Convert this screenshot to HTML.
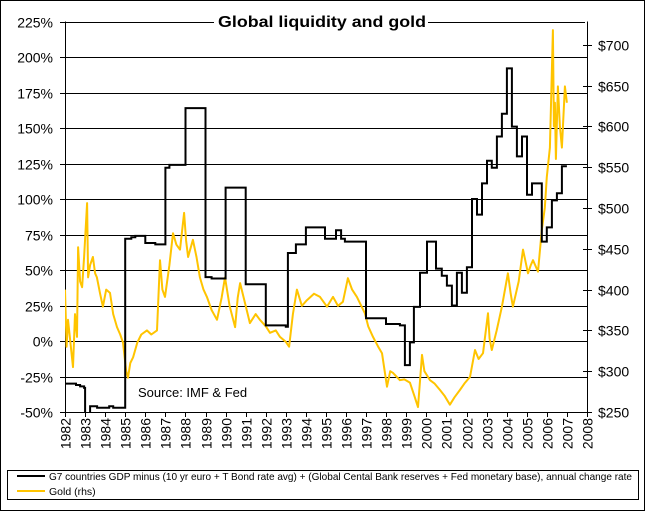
<!DOCTYPE html>
<html><head><meta charset="utf-8"><style>
html,body{margin:0;padding:0;background:#fff;}
svg{display:block;font-family:"Liberation Sans",Arial,sans-serif;}
</style></head><body>
<svg id="chart" width="646" height="512" viewBox="0 0 646 512">
<rect x="0.5" y="0.5" width="644" height="510" fill="#fff" stroke="#000"/>
<g id="grid"></g>
<g id="axes"></g>
<g id="series"></g>
<rect x="214" y="10" width="214" height="20" fill="#fff"/>
<text x="218" y="27" font-weight="bold" font-size="16" textLength="208" lengthAdjust="spacingAndGlyphs">Global liquidity and gold</text>
<text x="138" y="397" font-size="13">Source: IMF &amp; Fed</text>
<g>
<rect x="7.5" y="470.5" width="631" height="29" fill="#fff" stroke="#000"/>
<line x1="17" y1="476" x2="45" y2="476" stroke="#000" stroke-width="2"/>
<text x="49" y="480" font-size="10.5" textLength="583" lengthAdjust="spacingAndGlyphs">G7 countries GDP minus (10 yr euro + T Bond rate avg) + (Global Cental Bank reserves + Fed monetary base), annual change rate</text>
<line x1="17" y1="491" x2="45" y2="491" stroke="#FFC400" stroke-width="2"/>
<text x="49" y="495" font-size="10.5">Gold (rhs)</text>
</g>
</svg>
<script>
const leftTicks=[-50,-25,0,25,50,75,100,125,150,175,200,225];
const rightTicks=[250,300,350,400,450,500,550,600,650,700];
const yearTicks=[1982,1983,1984,1985,1986,1987,1988,1989,1990,1991,1992,1993,1994,1995,1996,1997,1998,1999,2000,2001,2002,2003,2004,2005,2006,2007,2008];
const liqYears=[1982.0,1982.55,1982.75,1982.95,1983.0,1983.25,1983.6,1984.2,1984.4,1985.0,1985.3,1985.5,1986.0,1986.5,1987.0,1987.2,1988.0,1989.0,1989.3,1990.0,1991.0,1992.0,1993.0,1993.1,1993.5,1994.0,1994.95,1995.30,1995.50,1995.75,1995.94,1996.99,1997.99,1998.68,1998.93,1999.18,1999.38,1999.68,2000.03,2000.48,2000.77,2001.02,2001.27,2001.52,2001.77,2002.02,2002.27,2002.52,2002.77,2003.02,2003.26,2003.51,2003.76,2004.01,2004.26,2004.51,2004.76,2005.01,2005.26,2005.75,2006.0,2006.25,2006.50,2006.75,2007.0];
const liqValues=[-30,-31,-32,-33,-60,-46,-47,-46,-47,72,73,74,69,68,122,124,164,45,44,108,40,11,10,62,68,80,72,72,78,72,70,16,12,11,-17,-1,24,48,70,51,46,39,25,48,34,52,100,89,111,127,122,144,160,192,151,130,144,103,111,70,80,99,104,123,123];
const goldYears=[1982.0,1982.08,1982.15,1982.25,1982.40,1982.50,1982.60,1982.65,1982.75,1982.85,1982.95,1983.10,1983.15,1983.25,1983.39,1983.50,1983.59,1983.75,1983.89,1984.05,1984.24,1984.40,1984.59,1984.75,1984.89,1985.05,1985.14,1985.25,1985.39,1985.6,1985.8,1986.08,1986.3,1986.58,1986.73,1986.85,1986.98,1987.2,1987.38,1987.55,1987.73,1987.93,1988.03,1988.13,1988.37,1988.55,1988.72,1988.9,1989.07,1989.3,1989.57,1989.8,1989.97,1990.2,1990.47,1990.6,1990.72,1991.0,1991.21,1991.5,1991.71,1992.0,1992.21,1992.5,1992.71,1993.0,1993.16,1993.35,1993.55,1993.8,1994.05,1994.4,1994.70,1995.05,1995.35,1995.6,1995.84,1996.09,1996.3,1996.54,1996.94,1997.1,1997.34,1997.6,1997.79,1998.04,1998.2,1998.33,1998.68,1998.9,1999.18,1999.4,1999.58,1999.78,1999.9,2000.18,2000.4,2000.68,2000.9,2001.17,2001.4,2001.67,2001.9,2002.17,2002.42,2002.6,2002.82,2003.07,2003.15,2003.26,2003.5,2003.76,2004.06,2004.2,2004.31,2004.6,2004.81,2005.06,2005.2,2005.31,2005.56,2005.75,2005.9,2006.00,2006.15,2006.30,2006.35,2006.40,2006.45,2006.55,2006.65,2006.75,2006.90,2007.0];
const goldValues=[400,330,363,340,305,370,342,452,410,403,440,506,415,430,440,420,415,395,379,400,396,370,354,345,335,300,292,310,317,335,345,350,345,350,436,400,391,430,469,455,449,494,460,440,461,440,415,400,391,375,363,390,415,380,354,390,408,380,359,370,363,355,347,350,342,336,330,370,400,380,387,395,391,379,391,380,385,414,400,391,371,355,342,330,322,281,300,298,289,290,286,270,256,320,300,289,285,277,270,259,268,277,285,293,326,315,322,371,340,326,350,379,420,395,379,410,449,420,430,436,422,473,500,538,574,718,600,629,560,649,600,574,649,629];

const NS='http://www.w3.org/2000/svg';
const X0=65,X1=587,Y0=412,Y1=21.5;
const xs=y=>X0+(y-1982)/(2008-1982)*(X1-X0);
const yl=v=>Y0-(v+50)/275*(Y0-Y1);
const yr=v=>Y0-(v-250)/50*40.8;
function mk(tag,attrs,parent){const e=document.createElementNS(NS,tag);for(const k in attrs)e.setAttribute(k,attrs[k]);parent.appendChild(e);return e;}
const grid=document.getElementById('grid'),axes=document.getElementById('axes'),series=document.getElementById('series');
leftTicks.forEach(v=>{
  const y=Math.round(yl(v))+0.5;
  const g=mk('line',{x1:60,x2:v===225?X1-2:X1,y1:y,y2:y,stroke:'#000'},grid);
  
  
  const t=mk('text',{x:53,y:y+5,'text-anchor':'end','font-size':14},axes);
  t.textContent=v+'%';
  
  
});
rightTicks.forEach(v=>{
  const y=Math.round(yr(v))+0.5;
  const l=mk('line',{x1:X1-4,x2:X1+5,y1:y,y2:y,stroke:'#000'},axes);
  
  
  const t=mk('text',{x:598,y:y+5,'font-size':14},axes);
  t.textContent='$'+v;
  
  
});
mk('line',{x1:X0+0.5,x2:X0+0.5,y1:Y1,y2:Y0,stroke:'#000'},axes);
mk('line',{x1:X1+0.5,x2:X1+0.5,y1:Y1,y2:Y0,stroke:'#000'},axes);
yearTicks.forEach(yv=>{
  const x=Math.round(xs(yv))+0.5;
  const l=mk('line',{x1:x,x2:x,y1:Y0,y2:417,stroke:'#000'},axes);
  
  
  const t=mk('text',{x:0,y:0,'font-size':14,'text-anchor':'end',transform:`translate(${x+5},418) rotate(-90)`},axes);
  t.textContent=yv;
  
  
});
const clip=mk('clipPath',{id:'pc'},series);
mk('rect',{x:X0,y:5,width:X1-X0,height:Y0-5},clip);
let gd='';
goldYears.forEach((t,i)=>{gd+=(i?'L':'M')+xs(t).toFixed(1)+','+yr(goldValues[i]).toFixed(1);});
const gp=mk('path',{d:gd,fill:'none',stroke:'#FFC400','stroke-width':2,'stroke-linejoin':'round','clip-path':'url(#pc)'},series);


let ld='';
liqYears.forEach((t,i)=>{
  const x=xs(t).toFixed(1),y=yl(liqValues[i]).toFixed(1);
  if(i===0)ld+='M'+x+','+y;else ld+='H'+x+'V'+y;
});
const lp=mk('path',{d:ld,fill:'none',stroke:'#000','stroke-width':2,'clip-path':'url(#pc)'},series);


</script>
</body></html>
